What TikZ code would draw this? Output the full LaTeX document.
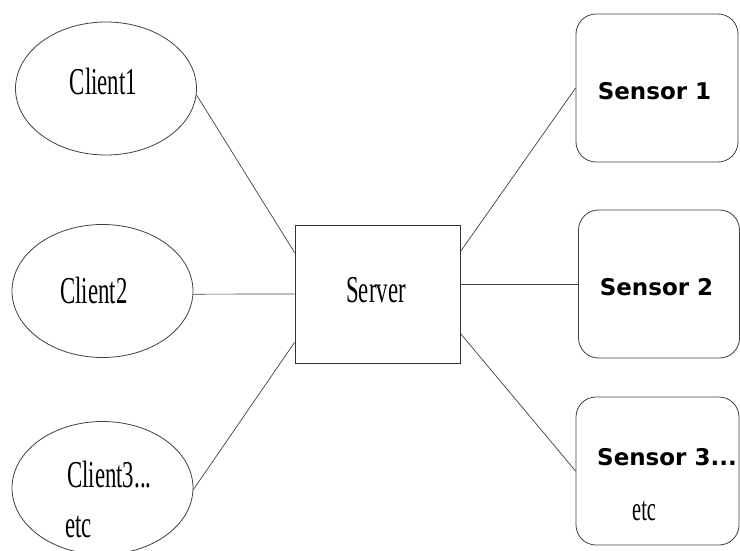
\documentclass[tikz,border=0pt]{standalone}
\usepackage{fontspec}
\setmainfont{Liberation Serif}
\newfontfamily\sensorfont{DejaVu Sans}
\usepackage{graphicx}
\usetikzlibrary{shapes.geometric}
\newcommand{\squeeze}[1]{\scalebox{0.6}[1]{#1}}

\begin{document}
\begin{tikzpicture}[x=1pt,y=-1pt]
   \tikzstyle{client} = [draw=black!75,line width=.8pt,ellipse,inner sep=0pt,
     minimum width=181pt,minimum height=133pt]
   \tikzstyle{server} = [draw=black!80,line width=.9pt,rectangle,inner sep=0pt,
     minimum width=165pt,minimum height=138pt]
   \tikzstyle{sensor} = [draw=black!75,line width=.8pt,rectangle,inner sep=0pt,
     rounded corners=20pt,minimum width=162pt,minimum height=148pt]
   \tikzstyle{ctxt} = [inner sep=0pt,font=\fontsize{38}{40}\selectfont]
   \tikzstyle{stxt} = [inner sep=0pt,font=\sensorfont\bfseries\fontsize{23}{26}\selectfont]
   \tikzstyle{link} = [draw=black!75,line width=.7pt]
   \useasboundingbox (0,0) rectangle (740,551);
    %% clients
    \node [client] (c1) at (106,88.5) {};
    \node [client] (c2) at (102.5,291) {};
    \node [client] (c3) at (102.5,488) {};
    \node [ctxt,anchor=base] (c1t) at (103.5,95) {\squeeze{Client1}};
    \node [ctxt,anchor=base] (c2t) at (94,303) {\squeeze{Client2}};
    \node [ctxt,anchor=base west] (c3t) at (67,487) {\squeeze{Client3...}};
    \node [ctxt,anchor=base west] (c3e) at (65,537) {\squeeze{etc}};
    %% server
    \node [server] (srv) at (377.5,294) {};
    \node [ctxt,anchor=base] (srvt) at (376,302) {\squeeze{Server}};
    %% sensors
    \node [sensor] (s1) at (657,88) {};
    \node [sensor,minimum width=161pt] (s2) at (659,284) {};
    \node [sensor,minimum width=163pt] (s3) at (657.5,471) {};
    \node [stxt,anchor=base] (s1t) at (654.5,100) {Sensor 1};
    \node [stxt,anchor=base] (s2t) at (656.5,295) {Sensor 2};
    \node [stxt,anchor=base west] (s3t) at (597,465) {Sensor 3...};
    \node [ctxt,anchor=base west,font=\fontsize{34}{36}\selectfont] (s3e) at (632,520) {\squeeze{etc}};
    %% links
    \path [link] (c1.-4) -- ([yshift=-28pt]srv.north west);
    \path [link] (c2.-2) -- (srv.west);
    \path [link] (c3.-1) -- ([yshift=21pt]srv.south west);
    \path [link] ([yshift=-27pt]srv.north east) -- (s1.west);
    \path [link] (s2.west -| srv.east) -- (s2.west);
    \path [link] ([yshift=30pt]srv.south east) -- (s3.west);
\end{tikzpicture}
\end{document}
